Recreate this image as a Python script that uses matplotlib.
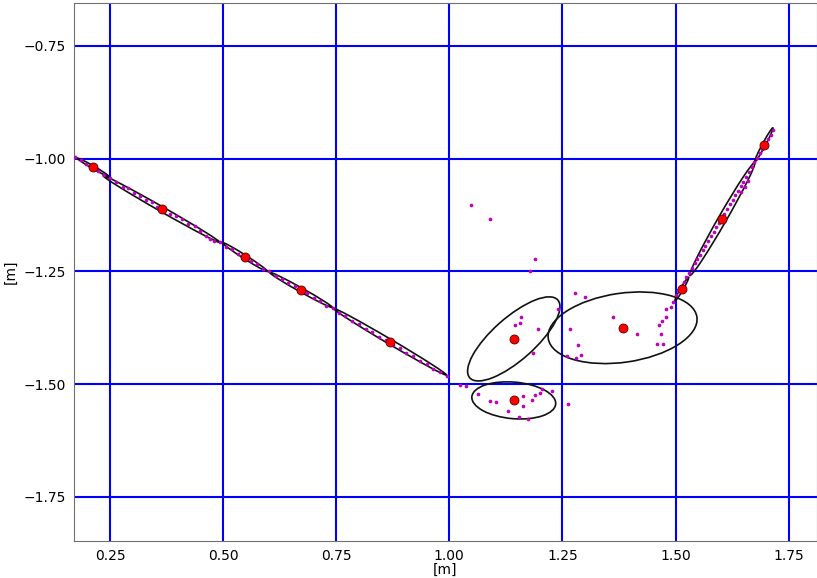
import matplotlib
matplotlib.use("Agg")
import matplotlib.pyplot as plt
from matplotlib.patches import Ellipse

# raw laser points (x, y) in metres
scan_x = [
    0.172, 0.185, 0.197, 0.210, 0.224, 0.236, 0.250, 0.263, 0.278, 0.290,
    0.303, 0.317, 0.330, 0.343, 0.355, 0.370, 0.383, 0.396, 0.410, 0.423,
    0.437, 0.450, 0.463, 0.472, 0.481, 0.493, 0.507, 0.520, 0.534, 0.548,
    0.561, 0.575, 0.589, 0.602, 0.616, 0.630, 0.644, 0.658, 0.672, 0.686,
    0.700, 0.714, 0.728, 0.742, 0.756, 0.770, 0.785, 0.800, 0.815, 0.830,
    0.845, 0.860, 0.875, 0.890, 0.905, 0.920, 0.935, 0.950, 0.965, 0.980,
    0.995, 1.023, 1.038, 1.064, 1.089, 1.103, 1.130, 1.154, 1.173, 1.163,
    1.162, 1.183, 1.189, 1.200, 1.205, 1.227, 1.262,
    1.049, 1.091, 1.190, 1.178, 1.277, 1.301, 1.240, 1.159, 1.156, 1.145,
    1.195, 1.266, 1.362, 1.415, 1.285, 1.185, 1.260, 1.290, 1.279,
    1.458, 1.472, 1.467, 1.464, 1.471, 1.478, 1.480, 1.489, 1.494,
    1.500, 1.506, 1.512, 1.518, 1.524, 1.530, 1.536, 1.542, 1.548, 1.554,
    1.560, 1.566, 1.572, 1.578, 1.584, 1.590, 1.596, 1.602, 1.608, 1.614,
    1.620, 1.626, 1.632, 1.638, 1.644, 1.650, 1.656, 1.662, 1.668, 1.674,
    1.680, 1.686, 1.692, 1.698, 1.704, 1.710, 1.716,
    1.653, 1.660, 1.645,
]
scan_y = [
    -0.996, -1.004, -1.013, -1.021, -1.027, -1.037, -1.042, -1.053, -1.062, -1.066,
    -1.076, -1.082, -1.091, -1.097, -1.107, -1.112, -1.122, -1.128, -1.135, -1.146,
    -1.150, -1.160, -1.171, -1.178, -1.182, -1.185, -1.196, -1.201, -1.212, -1.218,
    -1.228, -1.234, -1.244, -1.250, -1.260, -1.266, -1.276, -1.283, -1.293, -1.299,
    -1.310, -1.316, -1.326, -1.332, -1.343, -1.349, -1.360, -1.367, -1.377, -1.384,
    -1.395, -1.402, -1.413, -1.420, -1.430, -1.437, -1.448, -1.455, -1.466, -1.474,
    -1.481, -1.502, -1.505, -1.522, -1.538, -1.540, -1.560, -1.573, -1.578, -1.548,
    -1.526, -1.535, -1.523, -1.520, -1.510, -1.516, -1.544,
    -1.102, -1.133, -1.222, -1.250, -1.297, -1.306, -1.334, -1.352, -1.364, -1.368,
    -1.378, -1.378, -1.351, -1.388, -1.413, -1.431, -1.437, -1.435, -1.442,
    -1.411, -1.411, -1.389, -1.369, -1.360, -1.351, -1.334, -1.329, -1.319,
    -1.303, -1.292, -1.282, -1.273, -1.262, -1.253, -1.242, -1.232, -1.222, -1.213,
    -1.203, -1.193, -1.183, -1.172, -1.162, -1.152, -1.142, -1.132, -1.122, -1.112,
    -1.101, -1.091, -1.081, -1.071, -1.061, -1.051, -1.040, -1.030, -1.018, -1.008,
    -0.998, -0.988, -0.978, -0.968, -0.957, -0.947, -0.936,
    -1.062, -1.050, -1.075,
]

# fitted feature means
mean_x = [0.212, 0.364, 0.548, 0.672, 0.869, 1.1425, 1.1425, 1.383, 1.514, 1.6035, 1.695]
mean_y = [-1.019, -1.112, -1.218, -1.291, -1.406, -1.3997, -1.536, -1.375, -1.289, -1.134, -0.970]

# covariance ellipses: major axis, minor axis, angle (deg)
ell_major = [0.080, 0.297, 0.119, 0.159, 0.290, 0.260, 0.186, 0.332, 0.060, 0.288, 0.086]
ell_minor = [0.006, 0.011, 0.008, 0.009, 0.011, 0.094, 0.081, 0.153, 0.006, 0.018, 0.007]
ell_angle = [-30.0, -29.8, -32.6, -29.3, -30.6, 41.6, -5.0, 8.25, 60.0, 60.2, 62.0]

fig = plt.figure(figsize=(8.17, 5.78), dpi=100)
ax = fig.add_axes([0.0906, 0.064, 0.909, 0.931])

ax.scatter(scan_x, scan_y, s=7, color="m", zorder=3, linewidths=0)

for i in range(len(mean_x)):
    e = Ellipse((mean_x[i], mean_y[i]), ell_major[i], ell_minor[i], angle=ell_angle[i],
                fill=False, edgecolor="#111111", linewidth=1.2, zorder=2)
    ax.add_patch(e)

ax.scatter(mean_x, mean_y, s=42, color="red", edgecolors="#550000", linewidths=0.6, zorder=4)

ax.set_xlim(0.1705, 1.812)
ax.set_ylim(-1.8476, -0.655)
ax.set_xticks([0.25, 0.5, 0.75, 1.0, 1.25, 1.5, 1.75])
ax.set_yticks([-1.75, -1.5, -1.25, -1.0, -0.75])
ax.grid(True, color="blue", linewidth=1.5)
ax.tick_params(length=0, labelsize=10, pad=6)
for sp in ax.spines.values():
    sp.set_color("#707070")
ax.set_xlabel("[m]", fontsize=10, labelpad=0)
ax.set_ylabel("[m]", fontsize=10)

plt.savefig("out.png", dpi=100)
